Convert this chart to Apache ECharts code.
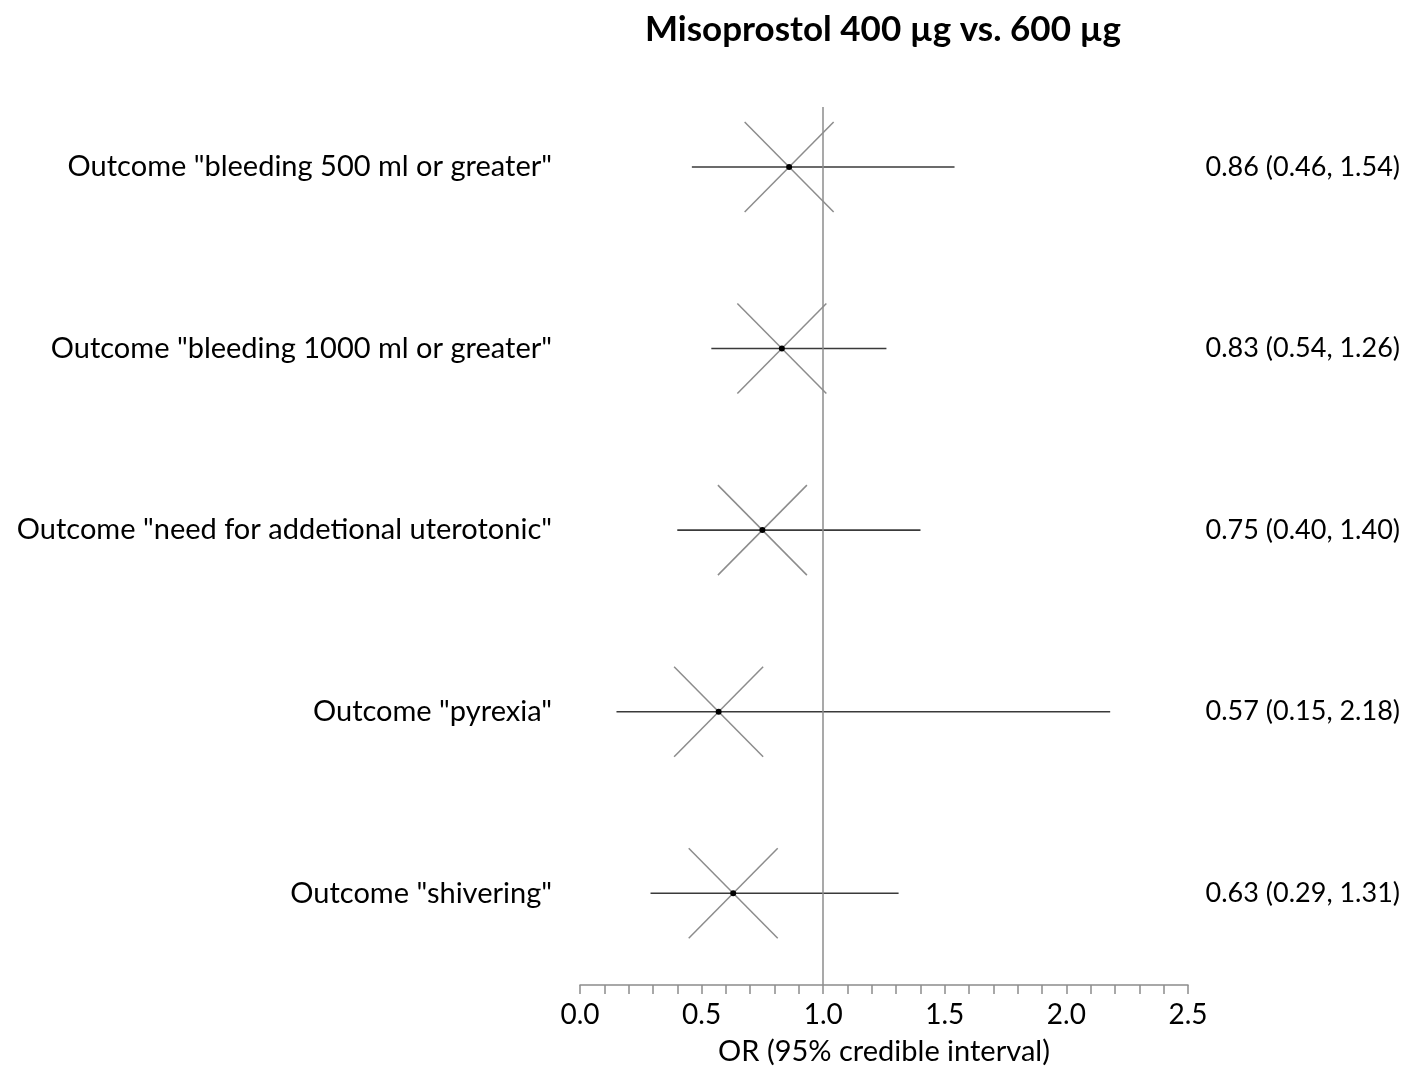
<!DOCTYPE html>
<html>
<head>
<meta charset="utf-8">
<script src="https://cdn.jsdelivr.net/npm/echarts@6/dist/echarts.min.js"></script>
<style>
  html, body { margin: 0; padding: 0; background: #fff; }
  #forest { width: 1406px; height: 1071px; }
</style>
</head>
<body>
<div id="forest"></div>
<script>
var outcomes = [
    'Outcome "bleeding 500 ml or greater"',
    'Outcome "bleeding 1000 ml or greater"',
    'Outcome "need for addetional uterotonic"',
    'Outcome "pyrexia"',
    'Outcome "shivering"'
];
var orVals = [0.86, 0.83, 0.75, 0.57, 0.63];
var loVals = [0.46, 0.54, 0.40, 0.15, 0.29];
var hiVals = [1.54, 1.26, 1.40, 2.18, 1.31];

var FONT = 'Lato, "Open Sans", sans-serif';

var rows = [];
for (var i = 0; i < outcomes.length; i++) {
    rows.push([orVals[i], i, loVals[i], hiVals[i]]);
}

function fmt(v) { return v.toFixed(2); }

var chart = echarts.init(document.getElementById('forest'));

chart.setOption({
    animation: false,
    backgroundColor: '#fff',
    graphic: [{
        type: 'text',
        x: 883, y: 30,
        style: {
            text: 'Misoprostol 400 \u00b5g vs. 600 \u00b5g',
            font: 'bold 35px ' + FONT,
            fill: '#000',
            align: 'center',
            verticalAlign: 'middle'
        }
    }],
    grid: { left: 580, right: 218, top: 107, bottom: 84 },
    xAxis: {
        type: 'value',
        min: 0, max: 2.5, interval: 0.5,
        axisLine: { show: true, onZero: false, lineStyle: { color: '#8c8c8c', width: 1.5 } },
        axisTick: { show: true, length: 9, lineStyle: { color: '#8c8c8c', width: 1.5 } },
        minorTick: { show: true, splitNumber: 5, length: 9, lineStyle: { color: '#8c8c8c', width: 1.5 } },
        splitLine: { show: false },
        axisLabel: {
            margin: 16, color: '#000', fontSize: 28, fontFamily: FONT,
            formatter: function (v) { return v.toFixed(1); }
        },
        name: 'OR (95% credible interval)',
        nameLocation: 'middle',
        nameGap: 52,
        nameTextStyle: { color: '#000', fontSize: 29, fontFamily: FONT }
    },
    yAxis: {
        type: 'value',
        inverse: true,
        min: -0.33, max: 4.505,
        axisLine: { show: false },
        axisTick: { show: false },
        axisLabel: { show: false },
        splitLine: { show: false }
    },
    series: [{
        type: 'custom',
        clip: false,
        data: rows,
        markLine: {
            silent: true,
            symbol: 'none',
            label: { show: false },
            lineStyle: { color: '#8c8c8c', width: 1.5, type: 'solid' },
            data: [{ xAxis: 1 }]
        },
        renderItem: function (params, api) {
            var idx = params.dataIndex;
            var c = api.coord([api.value(0), api.value(1)]);
            var lo = api.coord([api.value(2), api.value(1)]);
            var hi = api.coord([api.value(3), api.value(1)]);
            var x0 = api.coord([0, api.value(1)]);
            var hw = 44.5, hh = 45;
            var gray = { stroke: '#8c8c8c', lineWidth: 1.5 };
            return {
                type: 'group',
                children: [
                    { type: 'line', shape: { x1: c[0] - hw, y1: c[1] - hh, x2: c[0] + hw, y2: c[1] + hh }, style: gray },
                    { type: 'line', shape: { x1: c[0] - hw, y1: c[1] + hh, x2: c[0] + hw, y2: c[1] - hh }, style: gray },
                    { type: 'line', shape: { x1: lo[0], y1: lo[1], x2: hi[0], y2: hi[1] }, style: { stroke: '#3a3a3a', lineWidth: 1.6 } },
                    { type: 'circle', shape: { cx: c[0], cy: c[1], r: 3 }, style: { fill: '#000' } },
                    { type: 'text', style: {
                        text: outcomes[idx], x: x0[0] - 28, y: c[1],
                        align: 'right', verticalAlign: 'middle',
                        font: '29px ' + FONT, fill: '#000'
                    } },
                    { type: 'text', style: {
                        text: fmt(orVals[idx]) + ' (' + fmt(loVals[idx]) + ', ' + fmt(hiVals[idx]) + ')',
                        x: api.getWidth() - 6, y: c[1],
                        align: 'right', verticalAlign: 'middle',
                        font: '27px ' + FONT, fill: '#000'
                    } }
                ]
            };
        }
    }]
});
</script>
</body>
</html>
